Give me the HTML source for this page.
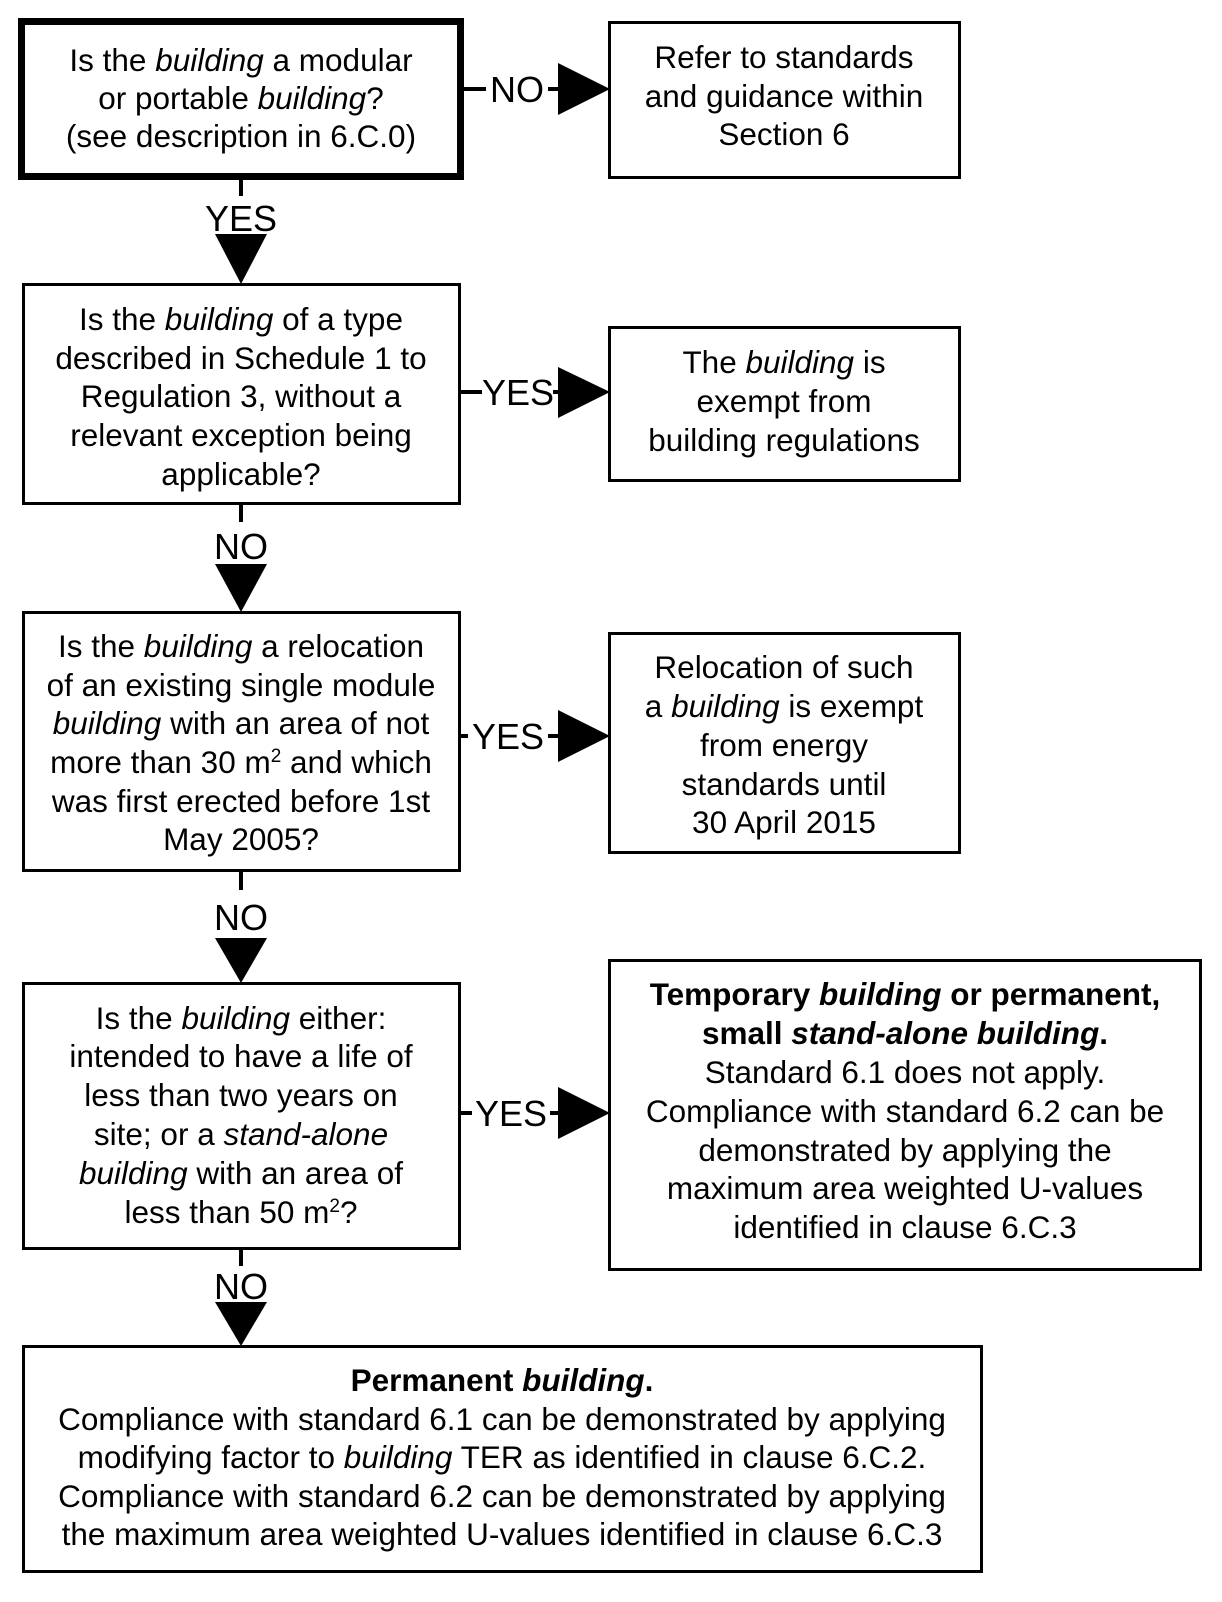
<!DOCTYPE html>
<html><head><meta charset="utf-8"><style>
html,body{margin:0;padding:0;background:#fff;}
svg{display:block;}
text{font-family:"Liberation Sans",Arial,sans-serif;font-size:31.5px;fill:#000;}
.l{font-size:36px;}
</style></head><body>
<svg width="1222" height="1602" viewBox="0 0 1222 1602" xmlns="http://www.w3.org/2000/svg">
<g fill="none" stroke="#000">
<rect x="21.5" y="21.5" width="439" height="155" stroke-width="7"/>
<rect x="609.5" y="22.5" width="350" height="155" stroke-width="3"/>
<rect x="23.5" y="284.5" width="436" height="219" stroke-width="3"/>
<rect x="609.5" y="327.5" width="350" height="153" stroke-width="3"/>
<rect x="23.5" y="612.5" width="436" height="258" stroke-width="3"/>
<rect x="609.5" y="633.5" width="350" height="219" stroke-width="3"/>
<rect x="23.5" y="983.5" width="436" height="265" stroke-width="3"/>
<rect x="609.5" y="960.5" width="591" height="309" stroke-width="3"/>
<rect x="23.5" y="1346.5" width="958" height="225" stroke-width="3"/>
<line x1="464" y1="89" x2="486" y2="89" stroke-width="4"/>
<line x1="548" y1="89" x2="560" y2="89" stroke-width="4"/>
<line x1="460" y1="392" x2="482" y2="392" stroke-width="4"/>
<line x1="553" y1="392" x2="560" y2="392" stroke-width="4"/>
<line x1="460" y1="736" x2="468" y2="736" stroke-width="4"/>
<line x1="548" y1="736" x2="560" y2="736" stroke-width="4"/>
<line x1="460" y1="1113" x2="472" y2="1113" stroke-width="4"/>
<line x1="550" y1="1113" x2="560" y2="1113" stroke-width="4"/>
<line x1="241" y1="180" x2="241" y2="196" stroke-width="4"/>
<line x1="241" y1="504" x2="241" y2="522" stroke-width="4"/>
<line x1="241" y1="871" x2="241" y2="890" stroke-width="4"/>
<line x1="241" y1="1250" x2="241" y2="1266" stroke-width="4"/>
</g>
<g fill="#000">
<polygon points="558,63 610,89 558,115"/>
<polygon points="558,367 610,392 558,418"/>
<polygon points="558,710 610,736 558,762"/>
<polygon points="558,1087 610,1113 558,1139"/>
<polygon points="215,234 267,234 241,284"/>
<polygon points="215,564 267,564 241,612"/>
<polygon points="215,938 267,938 241,983"/>
<polygon points="215,1302 267,1302 241,1346"/>
</g>
<g text-anchor="middle">
<text class="l" x="517" y="102">NO</text>
<text class="l" x="518" y="405">YES</text>
<text class="l" x="508" y="749">YES</text>
<text class="l" x="511" y="1126">YES</text>
<text class="l" x="241" y="231">YES</text>
<text class="l" x="241" y="559">NO</text>
<text class="l" x="241" y="930">NO</text>
<text class="l" x="241" y="1299">NO</text>

<text x="241" y="71">Is the <tspan font-style="italic">building</tspan> a modular</text>
<text x="241" y="109">or portable <tspan font-style="italic">building</tspan>?</text>
<text x="241" y="147">(see description in 6.C.0)</text>

<text x="784" y="68">Refer to standards</text>
<text x="784" y="107">and guidance within</text>
<text x="784" y="145">Section 6</text>

<text x="241" y="330">Is the <tspan font-style="italic">building</tspan> of a type</text>
<text x="241" y="369">described in Schedule 1 to</text>
<text x="241" y="407">Regulation 3, without a</text>
<text x="241" y="446">relevant exception being</text>
<text x="241" y="485">applicable?</text>

<text x="784" y="373">The <tspan font-style="italic">building</tspan> is</text>
<text x="784" y="412">exempt from</text>
<text x="784" y="451">building regulations</text>

<text x="241" y="657">Is the <tspan font-style="italic">building</tspan> a relocation</text>
<text x="241" y="696">of an existing single module</text>
<text x="241" y="734"><tspan font-style="italic">building</tspan> with an area of not</text>
<text x="241" y="773">more than 30 m<tspan font-size="19" dy="-11">2</tspan><tspan dy="11"> and which</tspan></text>
<text x="241" y="812">was first erected before 1st</text>
<text x="241" y="850">May 2005?</text>

<text x="784" y="678">Relocation of such</text>
<text x="784" y="717">a <tspan font-style="italic">building</tspan> is exempt</text>
<text x="784" y="756">from energy</text>
<text x="784" y="795">standards until</text>
<text x="784" y="833">30 April 2015</text>

<text x="241" y="1029">Is the <tspan font-style="italic">building</tspan> either:</text>
<text x="241" y="1067">intended to have a life of</text>
<text x="241" y="1106">less than two years on</text>
<text x="241" y="1145">site; or a <tspan font-style="italic">stand-alone</tspan></text>
<text x="241" y="1184"><tspan font-style="italic">building</tspan> with an area of</text>
<text x="241" y="1223">less than 50 m<tspan font-size="19" dy="-11">2</tspan><tspan dy="11">?</tspan></text>

<text x="905" y="1005" font-weight="bold">Temporary <tspan font-style="italic">building</tspan> or permanent,</text>
<text x="905" y="1044" font-weight="bold">small <tspan font-style="italic">stand-alone building</tspan>.</text>
<text x="905" y="1083">Standard 6.1 does not apply.</text>
<text x="905" y="1122">Compliance with standard 6.2 can be</text>
<text x="905" y="1161">demonstrated by applying the</text>
<text x="905" y="1199">maximum area weighted U-values</text>
<text x="905" y="1238">identified in clause 6.C.3</text>

<text x="502" y="1391" font-weight="bold">Permanent <tspan font-style="italic">building</tspan>.</text>
<text x="502" y="1430">Compliance with standard 6.1 can be demonstrated by applying</text>
<text x="502" y="1468">modifying factor to <tspan font-style="italic">building</tspan> TER as identified in clause 6.C.2.</text>
<text x="502" y="1507">Compliance with standard 6.2 can be demonstrated by applying</text>
<text x="502" y="1545">the maximum area weighted U-values identified in clause 6.C.3</text>
</g>
</svg>
</body></html>
